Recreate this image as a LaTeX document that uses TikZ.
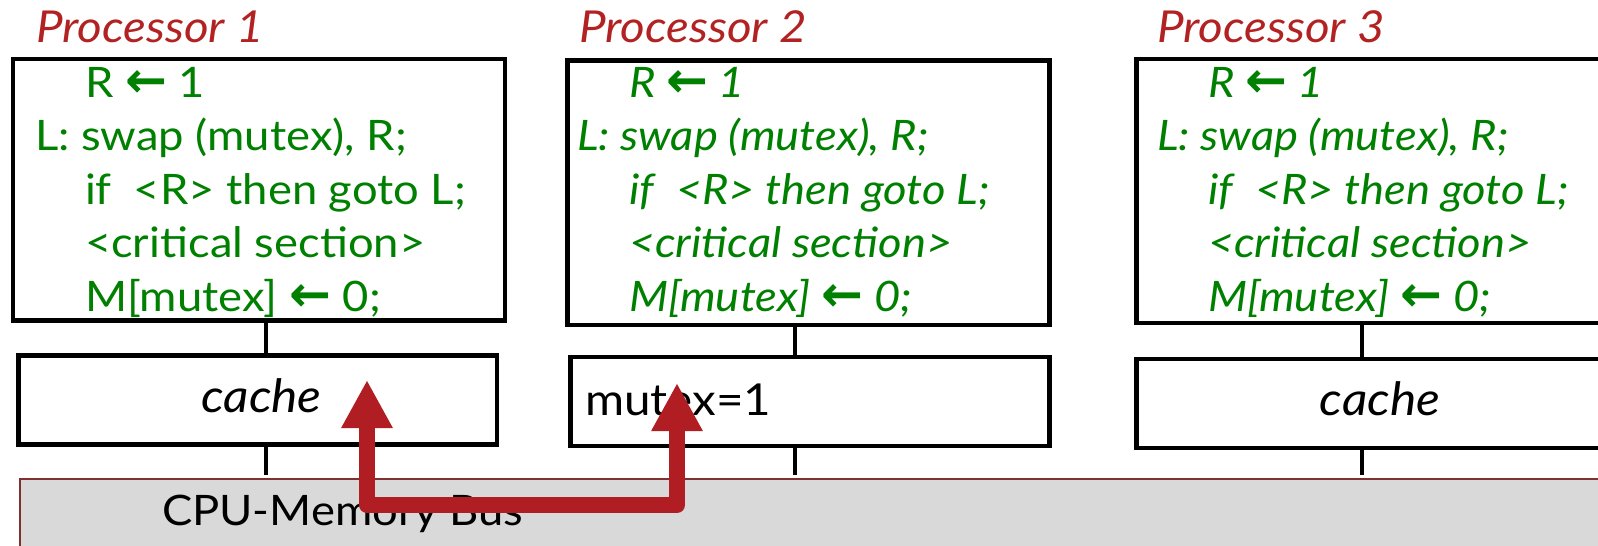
\documentclass[tikz,border=0pt]{standalone}
\usepackage{fontspec}
\setmainfont{Lato}[FakeStretch=1.08]
\newfontfamily\arrowfont{DejaVu Sans}
\usetikzlibrary{arrows.meta}
\definecolor{codegreen}{RGB}{0,128,0}
\definecolor{labelred}{RGB}{178,34,34}
\definecolor{arrowred}{RGB}{176,30,35}
\definecolor{busfill}{RGB}{217,217,217}
\definecolor{busline}{RGB}{128,48,48}
\newcommand{\codesz}{\fontsize{42}{50}\selectfont}
\newcommand{\lblsz}{\fontsize{44}{52}\selectfont}
\newcommand{\la}{{\arrowfont\bfseries\fontsize{50}{50}\selectfont ←}}
\tikzset{
  box/.style={draw=black, line width=4.5pt, inner sep=0pt, outer sep=0pt, fill=white},
  wire/.style={draw=black, line width=4pt},
  txt/.style={anchor=base west, inner sep=0pt, outer sep=0pt},
  code/.style={txt, text=codegreen, font=\codesz},
  icode/.style={txt, text=codegreen, font=\codesz\itshape},
  plabel/.style={txt, text=labelred, font=\lblsz\itshape},
  bustext/.style={txt, text=black, font=\codesz},
  swaparrow/.style={draw=arrowred, line width=16pt, line join=round,
    {Triangle[width=48pt,length=48pt]}-{Triangle[width=48pt,length=48pt]}}
}
\begin{document}
\begin{tikzpicture}[x=1pt,y=-1pt]
\useasboundingbox (0,0) rectangle (1598,546);
\clip (0,0) rectangle (1598,546);
\fill[white] (0,0) rectangle (1598,546);

% bus
\node[draw=busline, fill=busfill, line width=1.5pt, minimum width=1640pt, minimum height=140pt, inner sep=0pt, outer sep=0pt] (bus) at (840,549) {};
\node[bustext] (bustxt) at (162,525) {CPU-Memory Bus};

% processor boxes
\node[box, minimum width=492pt, minimum height=261.5pt] (p1) at (259,189.75) {};
\node[box, minimum width=482pt, minimum height=264.5pt] (p2) at (808.5,192.75) {};
\node[box, minimum width=500pt, minimum height=264pt] (p3) at (1386.5,191) {};

% caches
\node[box, minimum width=478.5pt, minimum height=89pt] (c1) at (257.75,400) {};
\node[box, minimum width=479pt, minimum height=89pt] (c2) at (810,401.5) {};
\node[box, minimum width=500pt, minimum height=89pt] (c3) at (1386.5,403.5) {};

% connector columns
\coordinate (k1) at (266,0);
\coordinate (k2) at (795,0);
\coordinate (k3) at (1362,0);
\foreach \k/\p/\c in {k1/p1/c1, k2/p2/c2, k3/p3/c3}{
  \draw[wire] (\k |- \p.south) -- (\k |- \c.north);
  \draw[wire, shorten >=4pt] (\k |- \c.south) -- (\k |- bus.north);
}

% labels
\node[plabel] (l1) at (36,42) {Processor 1};
\node[plabel] (l2) at (579,42) {Processor 2};
\node[plabel] (l3) at (1157,42) {Processor 3};

% code processor 1
\node[code] (a1) at (85,97) {R \la{} 1};
\node[code] (a2) at (35,150.5) {L: swap (mutex), R;};
\node[code] (a3) at (85,204) {if\hspace{22pt}<R> then goto L;};
\node[code] (a4) at (85,257.5) {<critical section>};
\node[code] (a5) at (85,311) {M[mutex] \la{} 0;};

% code processor 2
\node[icode] (b1) at (629,97) {R \la{} 1};
\node[icode] (b2) at (577,150.5) {L: swap (mutex), R;};
\node[icode] (b3) at (629,204) {if\hspace{22pt}<R> then goto L;};
\node[icode] (b4) at (629,257.5) {<critical section>};
\node[icode] (b5) at (629,311) {M[mutex] \la{} 0;};

% code processor 3
\node[icode] (d1) at (1208,97) {R \la{} 1};
\node[icode] (d2) at (1157,150.5) {L: swap (mutex), R;};
\node[icode] (d3) at (1208,204) {if\hspace{22pt}<R> then goto L;};
\node[icode] (d4) at (1208,257.5) {<critical section>};
\node[icode] (d5) at (1208,311) {M[mutex] \la{} 0;};

% cache contents
\node[anchor=base, inner sep=0pt, font=\fontsize{46}{54}\selectfont\itshape] (t1) at (261.5,412) {cache};
\node[txt, font=\fontsize{44}{52}\selectfont] (t2) at (585,415) {mutex=1};
\node[anchor=base, inner sep=0pt, font=\fontsize{46}{54}\selectfont\itshape] (t3) at (1380,415.5) {cache};

% swap arrow
\coordinate (tipA) at (367,380);
\coordinate (cornA) at (367,505);
\coordinate (cornB) at (677,505);
\coordinate (tipB) at (677,383);
\draw[swaparrow] (tipA) -- (cornA) -- (cornB) -- (tipB);
\end{tikzpicture}
\end{document}
